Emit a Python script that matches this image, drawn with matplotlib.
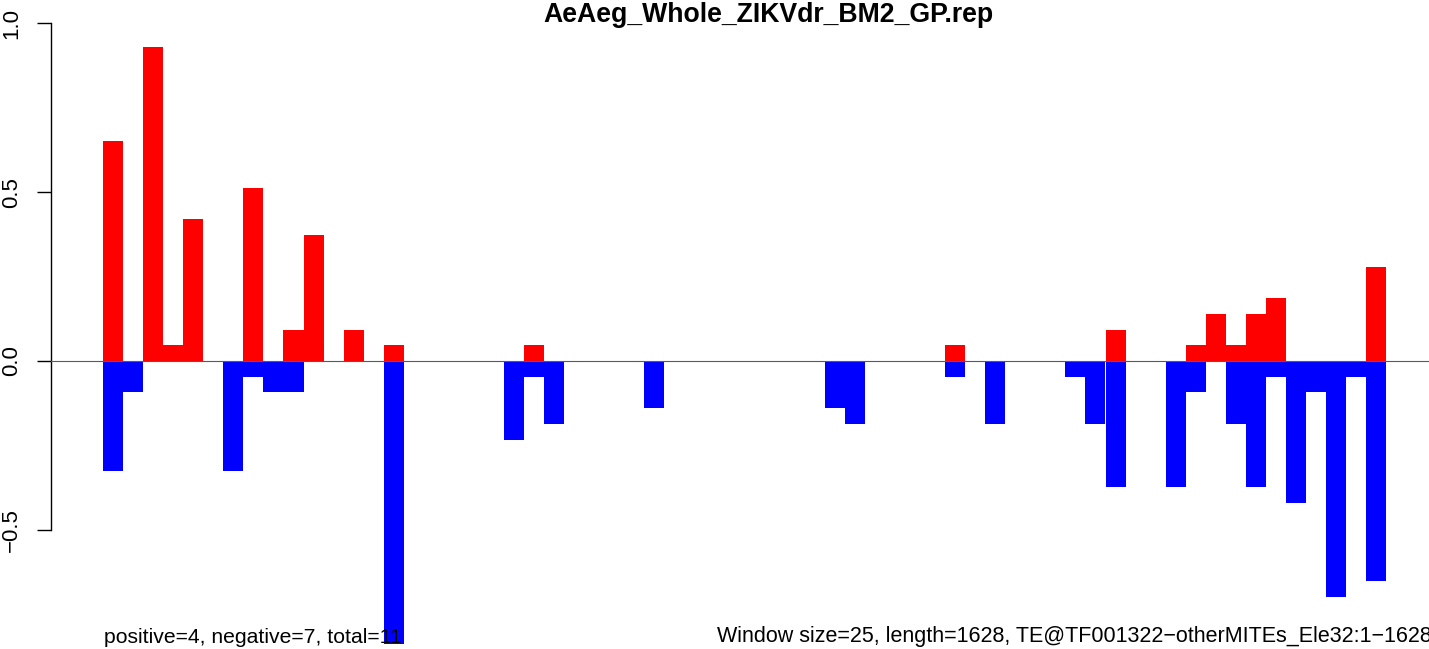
import matplotlib
matplotlib.use("Agg")
import matplotlib.pyplot as plt
import numpy as np

plt.rcParams['font.family'] = ['Liberation Sans', 'DejaVu Sans']

title = "AeAeg_Whole_ZIKVdr_BM2_GP.rep"
left_note = "positive=4, negative=7, total=11"
right_note = "Window size=25, length=1628, TE@TF001322\u2212otherMITEs_Ele32:1\u22121628"

window_size = 25
n_windows = 64
window_starts = [i * window_size for i in range(n_windows)]

# positive (red) values per window
pos_idx = [0, 2, 3, 4, 7, 9, 10, 12, 14, 21, 42, 50, 54, 55, 56, 57, 58, 63]
pos_val = [0.651, 0.930, 0.047, 0.419, 0.512, 0.093, 0.372, 0.093, 0.047,
           0.047, 0.047, 0.093, 0.047, 0.140, 0.047, 0.140, 0.186, 0.279]

# negative (blue) values per window
neg_idx = [0, 1, 6, 7, 8, 9, 14, 20, 21, 22, 27, 36, 37, 42, 44, 48, 49, 50,
           53, 54, 56, 57, 58, 59, 60, 61, 62, 63]
neg_val = [-0.326, -0.093, -0.326, -0.047, -0.093, -0.093, -0.837, -0.233,
           -0.047, -0.186, -0.140, -0.140, -0.186, -0.047, -0.186, -0.047,
           -0.186, -0.372, -0.372, -0.093, -0.186, -0.372, -0.047, -0.419,
           -0.093, -0.698, -0.047, -0.651]

ytick_vals = [-0.5, 0.0, 0.5, 1.0]
ytick_labels = ["\u22120.5", "0.0", "0.5", "1.0"]

W, H = 1429, 649
fig = plt.figure(figsize=(W / 100, H / 100), dpi=100)
ax = fig.add_axes([51 / W, 0, 1 - 51 / W, 1])

px_per_bp = 20.05 / 25
x0_px = 103
ax.set_xlim((51 - x0_px) / px_per_bp, (W - x0_px) / px_per_bp)
ppu = 337.8
ax.set_ylim(-(H - 361) / ppu, 361 / ppu)

ax.bar([window_starts[i] for i in pos_idx], pos_val, width=window_size,
       align='edge', color='#ff0000', linewidth=0, antialiased=False)
ax.bar([window_starts[i] for i in neg_idx], neg_val, width=window_size,
       align='edge', color='#0000ff', linewidth=0, antialiased=False)

ax.axhline(0, color='#5a5a5a', lw=0.8, zorder=3)

for s in ['top', 'right', 'bottom']:
    ax.spines[s].set_visible(False)
ax.spines['left'].set_bounds(-0.5, 1.0)
ax.spines['left'].set_linewidth(1.0)
ax.set_xticks([])
ax.set_yticks(ytick_vals)
ax.set_yticklabels(ytick_labels, rotation=90, va='center')
ax.tick_params(axis='y', direction='out', length=10, width=1.0, pad=11,
               labelsize=16)
ax.patch.set_alpha(0)

fig.text(768 / W, 1 - 22.5 / H, title, ha='center', va='baseline',
         fontsize=19.2, fontweight='bold')
fig.text(104 / W, 1 - 643 / H, left_note, ha='left', va='baseline', fontsize=15.2)
fig.text(717 / W, 1 - 642 / H, right_note, ha='left', va='baseline', fontsize=15.5)

fig.savefig("out.png", dpi=100)
